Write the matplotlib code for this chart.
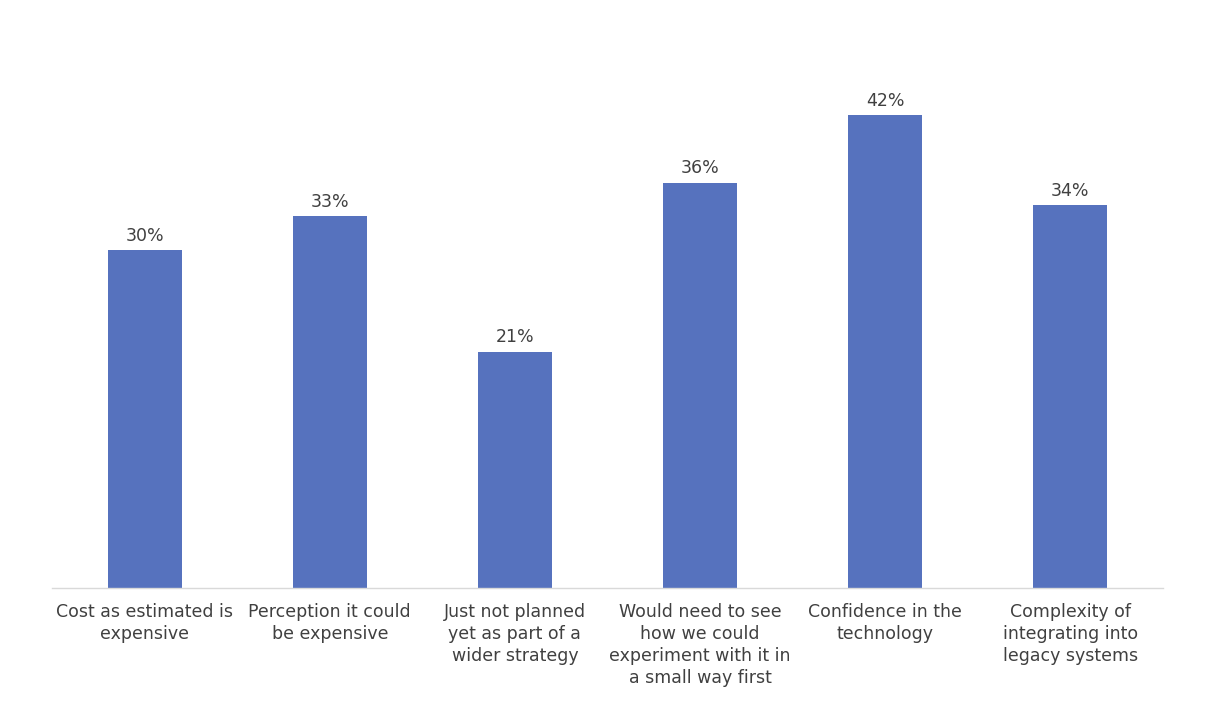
import matplotlib
matplotlib.use("Agg")
import matplotlib.pyplot as plt

plt.rcParams["font.family"] = ["DejaVu Sans"]

# survey answers and their shares (%)
categories = [
    "Cost as estimated is\nexpensive",
    "Perception it could\nbe expensive",
    "Just not planned\nyet as part of a\nwider strategy",
    "Would need to see\nhow we could\nexperiment with it in\na small way first",
    "Confidence in the\ntechnology",
    "Complexity of\nintegrating into\nlegacy systems",
]
values = [30, 33, 21, 36, 42, 34]
labels = [str(v) + "%" for v in values]

bar_color = "#5672BE"
text_color = "#404040"

fig = plt.figure(figsize=(12.05, 7.16), dpi=100)
ax = fig.add_axes([52 / 1205, 128 / 716, 1111 / 1205, 506.7 / 716])

x = range(len(categories))
bars = ax.bar(x, values, width=0.4, color=bar_color)

for b, lab in zip(bars, labels):
    ax.annotate(lab, (b.get_x() + b.get_width() / 2, b.get_height()),
                xytext=(0, 4), textcoords="offset points",
                ha="center", va="bottom", fontsize=12.5, color=text_color)

ax.set_xlim(-0.5, len(categories) - 0.5)
ax.set_ylim(0, 45)
ax.set_xticks(list(x))
ax.set_xticklabels(categories, fontsize=12.5, color=text_color, linespacing=1.28, va="top")
ax.tick_params(axis="x", length=0, pad=11)
ax.set_yticks([])

for side in ["left", "right", "top"]:
    ax.spines[side].set_visible(False)
ax.spines["bottom"].set_color("#D9D9D9")
ax.spines["bottom"].set_linewidth(1)

fig.savefig("out.png", dpi=100)
